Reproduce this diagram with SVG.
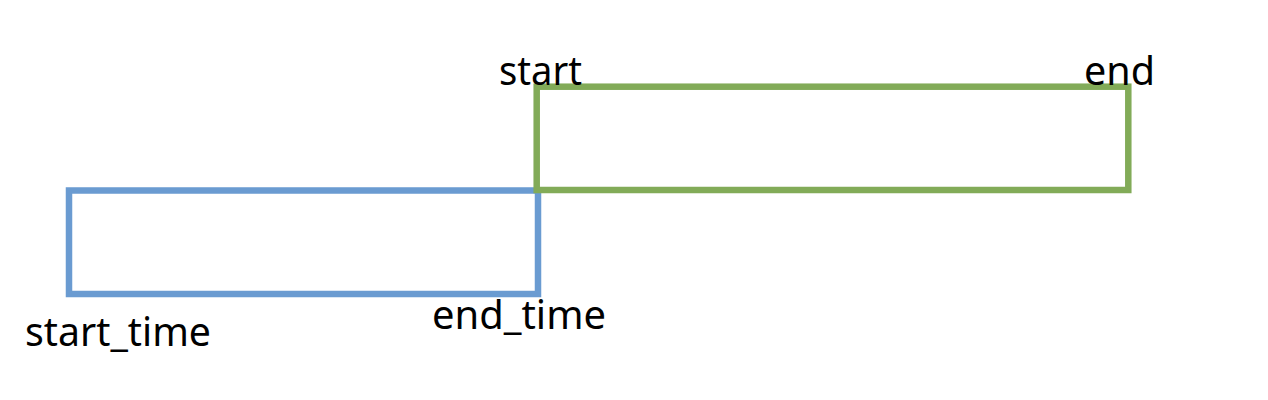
<svg xmlns="http://www.w3.org/2000/svg" width="1268" height="400" viewBox="0 0 1268 400">
<style>
.box{fill:none;stroke-width:6.5}
.lbl{font-family:"Noto Sans","Liberation Sans",sans-serif;font-size:40px;fill:#000}
</style>
<rect width="1268" height="400" fill="#fff"/>
<g id="range-a">
<rect class="box" x="69" y="190.5" width="469" height="103.5" stroke="#6a9bd1"/>
<text class="lbl" x="25" y="346" textLength="186" lengthAdjust="spacingAndGlyphs">start_time</text>
<text class="lbl" x="432" y="329" textLength="174" lengthAdjust="spacingAndGlyphs">end_time</text>
</g>
<g id="range-b">
<rect class="box" x="536.7" y="86.7" width="591.6" height="103.3" stroke="#82ab58"/>
<text class="lbl" x="499" y="85" textLength="83" lengthAdjust="spacingAndGlyphs">start</text>
<text class="lbl" x="1084" y="85" textLength="71" lengthAdjust="spacingAndGlyphs">end</text>
</g>
<g id="connectors"/>
</svg>
